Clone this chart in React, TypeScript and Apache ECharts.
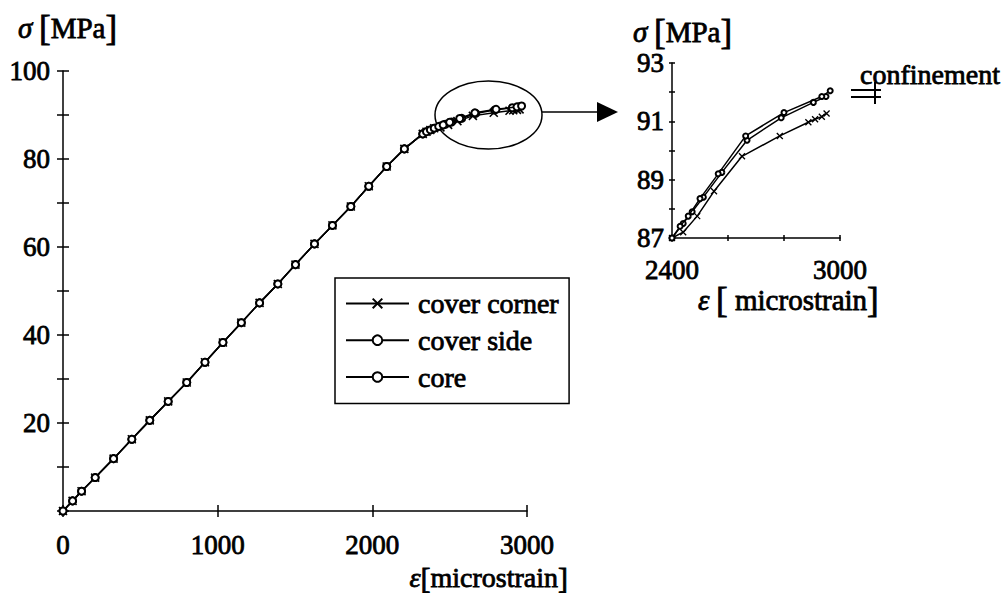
import React, { useEffect, useRef } from 'react';
import * as echarts from 'echarts';

// Common (overlapping) linear branch, strain in microstrain, stress in MPa
const commonStrain = [0, 62, 120, 208, 327, 445, 561, 680, 800, 918, 1034, 1153, 1271, 1389, 1503, 1626, 1742, 1861, 1977, 2093, 2207, 2326, 2350, 2375];
const commonStress = [0, 2.3, 4.5, 7.6, 11.9, 16.3, 20.6, 24.9, 29.2, 33.8, 38.3, 42.8, 47.3, 51.6, 56.0, 60.7, 64.9, 69.2, 73.8, 78.3, 82.3, 85.7, 86.2, 86.6];

// Non-linear branch per gauge
const coverCornerStrain = [2400, 2440, 2490, 2550, 2650, 2785, 2887, 2911, 2935, 2952];
const coverCornerStress = [87.0, 87.2, 87.75, 88.6, 89.8, 90.5, 90.97, 91.07, 91.16, 91.27];
const coverSideStrain = [2400, 2440, 2472, 2512, 2578, 2668, 2790, 2905, 2950];
const coverSideStress = [87.0, 87.5, 87.9, 88.4, 89.25, 90.35, 91.12, 91.65, 91.85];
const coreStrain = [2400, 2429, 2458, 2500, 2565, 2663, 2800, 2935, 2965];
const coreStress = [87.0, 87.4, 87.75, 88.35, 89.2, 90.5, 91.3, 91.85, 92.05];

const seriesNames = ['cover corner', 'cover side', 'core'];

const mainXTicks = [0, 1000, 2000, 3000];
const mainYLabels = [20, 40, 60, 80, 100];
const insetXLabels = [2400, 3000];
const insetYLabels = [87, 89, 91, 93];

const FONT = 'Liberation Serif';

function build(strain: number[], stress: number[]) {
  const pts: number[][] = [];
  commonStrain.forEach((x, i) => pts.push([x, commonStress[i]]));
  strain.forEach((x, i) => pts.push([x, stress[i]]));
  return pts;
}

const crossSymbol = 'path://M0,0L10,10M0,10L10,0';

export default function App() {
  const ref = useRef<HTMLDivElement>(null);
  useEffect(() => {
    document.body.style.margin = '0';
    if (!ref.current) return;
    const chart = echarts.init(ref.current, undefined, { renderer: 'svg' });

    const all = [
      build(coverCornerStrain, coverCornerStress),
      build(coverSideStrain, coverSideStress),
      build(coreStrain, coreStress),
    ];
    const symbols = [crossSymbol, 'emptyCircle', 'emptyCircle'];

    const series: any[] = [];
    all.forEach((data, k) => {
      series.push({
        name: seriesNames[k],
        type: 'line',
        xAxisIndex: 0,
        yAxisIndex: 0,
        data,
        symbol: symbols[k],
        symbolSize: k === 0 ? 8 : 7,
        lineStyle: { color: '#000', width: 1.5 },
        itemStyle: { color: '#000', borderColor: '#000', borderWidth: 1.6 },
        z: 3 + k,
      });
      series.push({
        name: seriesNames[k],
        type: 'line',
        xAxisIndex: 2,
        yAxisIndex: 2,
        data: data.filter((p) => p[0] >= 2400),
        symbol: symbols[k],
        symbolSize: k === 0 ? 6 : 5,
        lineStyle: { color: '#000', width: 1.5 },
        itemStyle: { color: '#000', borderColor: '#000', borderWidth: 1.3 },
        z: 3 + k,
      });
    });

    const heavy = { textBorderColor: '#000', textBorderWidth: 0.8 };
    const labelStyle = { fontFamily: FONT, fontSize: 27, fontWeight: 'normal', color: '#000', ...heavy };
    const axisLine = { show: true, lineStyle: { color: '#000', width: 1.5 } };

    const mkX = (grid: number, min: number, max: number, interval: number, labels: number[], inside: boolean, main: boolean, tickLen: number, margin: number) => ({
      type: 'value', gridIndex: grid, min, max, interval, position: 'bottom',
      axisLine: main ? axisLine : { show: false },
      axisTick: { show: true, inside, length: tickLen, lineStyle: { color: '#000', width: 1.5 } },
      axisLabel: main ? { ...labelStyle, margin, formatter: (v: number) => (labels.includes(v) ? String(v) : '') } : { show: false },
      splitLine: { show: false },
    });
    const mkY = (grid: number, min: number, max: number, interval: number, labels: number[], inside: boolean, main: boolean, tickLen: number, margin: number) => ({
      type: 'value', gridIndex: grid, min, max, interval, position: 'left',
      axisLine: main ? axisLine : { show: false },
      axisTick: { show: true, inside, length: tickLen, lineStyle: { color: '#000', width: 1.5 } },
      axisLabel: main ? { ...labelStyle, margin, formatter: (v: number) => (labels.includes(v) ? String(v) : '') } : { show: false },
      splitLine: { show: false },
    });

    const tok = (fs: number, italic = false) => ({
      fontFamily: FONT, fontSize: fs, fontStyle: italic ? 'italic' : 'normal', fill: '#000', stroke: '#000', lineWidth: 0.8,
    });
    const richTitle = (fs: number, bs: number) => ({ s: tok(fs, true), b: tok(bs), t: tok(fs) });

    chart.setOption({
      animation: false,
      backgroundColor: '#fff',
      textStyle: { fontFamily: FONT, color: '#000' },
      grid: [
        { left: 63, right: 479, top: 71, bottom: 83 },
        { left: 672, right: 166, top: 63, bottom: 356 },
      ],
      xAxis: [
        mkX(0, 0, 3000, 1000, mainXTicks, false, true, 6, 20),
        mkX(0, 0, 3000, 1000, mainXTicks, true, false, 6, 0),
        mkX(1, 2400, 3000, 200, insetXLabels, false, true, 3, 18),
        mkX(1, 2400, 3000, 200, insetXLabels, true, false, 3, 0),
      ],
      yAxis: [
        mkY(0, 0, 100, 10, mainYLabels, false, true, 6, 13),
        mkY(0, 0, 100, 10, mainYLabels, true, false, 6, 0),
        mkY(1, 87, 93, 1, insetYLabels, false, true, 3, 8),
        mkY(1, 87, 93, 1, insetYLabels, true, false, 3, 0),
      ],
      legend: {
        data: seriesNames,
        orient: 'vertical',
        left: 335,
        top: 278,
        padding: [11, 10, 12, 10],
        itemGap: 8,
        itemWidth: 63,
        itemHeight: 12,
        borderColor: '#000',
        borderWidth: 1.5,
        backgroundColor: '#fff',
        selectedMode: false,
        textStyle: { ...labelStyle, fontSize: 28, padding: [0, 0, 0, 4] },
      },
      series,
      graphic: [
        {
          type: 'text', x: 18, y: 28,
          style: { text: '{s|σ}  {b|[}{t|MPa}{b|]}', verticalAlign: 'middle', align: 'left', rich: richTitle(29, 35) },
        },
        {
          type: 'text', x: 568, y: 577,
          style: { text: '{s|ε}{b|[}{t|microstrain}{b|]}', verticalAlign: 'middle', align: 'right', rich: richTitle(28, 30) },
        },
        {
          type: 'text', x: 633, y: 32,
          style: { text: '{s|σ}  {b|[}{t|MPa}{b|]}', verticalAlign: 'middle', align: 'left', rich: richTitle(29, 35) },
        },
        {
          type: 'text', x: 698, y: 300,
          style: { text: '{s|ε}  {b|[}{t| microstrain}{b|]}', verticalAlign: 'middle', align: 'left', rich: richTitle(29, 35) },
        },
        {
          type: 'text', x: 860, y: 74,
          style: { text: 'confinement', fontFamily: FONT, fontSize: 28, fill: '#000', stroke: '#000', lineWidth: 0.8, verticalAlign: 'middle', align: 'left' },
        },
        { type: 'line', shape: { x1: 851, y1: 90, x2: 881, y2: 90 }, style: { stroke: '#000', lineWidth: 2 } },
        { type: 'line', shape: { x1: 851, y1: 97, x2: 881, y2: 97 }, style: { stroke: '#000', lineWidth: 2 } },
        { type: 'line', shape: { x1: 875, y1: 82, x2: 875, y2: 104 }, style: { stroke: '#000', lineWidth: 2 } },
        { type: 'ellipse', shape: { cx: 488.5, cy: 115, rx: 53.5, ry: 34 }, style: { stroke: '#000', fill: 'none', lineWidth: 1.5 } },
        { type: 'line', shape: { x1: 542, y1: 112, x2: 600, y2: 112 }, style: { stroke: '#000', lineWidth: 1.5 } },
        { type: 'polygon', shape: { points: [[597, 102], [618, 112], [597, 122]] }, style: { fill: '#000' } },
      ],
    });
    return () => chart.dispose();
  }, []);
  return <div ref={ref} style={{ width: 1006, height: 594 }} />;
}
